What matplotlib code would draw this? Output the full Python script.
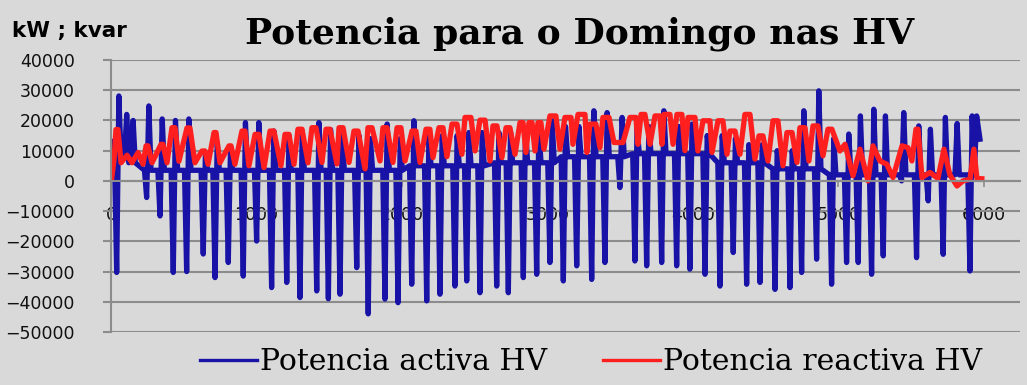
import matplotlib
matplotlib.use('Agg')
import matplotlib.pyplot as plt
from matplotlib.lines import Line2D

# Active power (kW): one entry per daily swing - where it bottoms out,
# the low, the high right after, and the level it sits at in between
swing_x = [39, 93, 137, 245, 337, 428, 520, 634, 715, 806,
           909, 1001, 1104, 1208, 1299, 1414, 1494, 1574, 1689, 1768,
           1883, 1973, 2067, 2170, 2261, 2364, 2445, 2536, 2651, 2731,
           2834, 2926, 3017, 3109, 3201, 3304, 3395, 3498, 3601, 3682,
           3785, 3888, 3979, 4083, 4186, 4277, 4369, 4461, 4564, 4667,
           4747, 4850, 4953, 5056, 5136, 5228, 5308, 5434, 5537, 5617,
           5720, 5801, 5904]
swing_low = [-30300, 9000, 8000, -5500, -11600, -30300, -30000, -24200, -32000, -27000,
             -31500, -19900, -35300, -33600, -38600, -36400, -39000, -37500, -28700, -44000,
             -39100, -40300, -34200, -39700, -37500, -34800, -33100, -37000, -34800, -37000,
             -32000, -30900, -27000, -33100, -28100, -32600, -27000, -2200, -26500, -28100,
             -27000, -28100, -29200, -30900, -34800, -23700, -34200, -33600, -35900, -35300,
             -30300, -25900, -34200, -27000, -27000, -30900, -24800, 0, -25400, -6600,
             -24300, 2000, -29800]
swing_high = [28100, 22000, 20000, 24800, 20500, 20000, 20500, 9000, 12700, 10000,
              19300, 19300, 16500, 15000, 16500, 19300, 17000, 15500, 15000, 14000,
              18800, 14000, 19900, 15000, 15000, 15000, 16000, 16000, 16000, 16000,
              17000, 17000, 19900, 18000, 18000, 23200, 22600, 21000, 18000, 18000,
              23200, 18000, 18800, 15000, 15000, 14000, 12000, 12000, 10000, 10000,
              23200, 29800, 14000, 15500, 21500, 23700, 21500, 22600, 18200, 17100,
              21000, 19000, 21500]
swing_base = [8000, 8000, 6000, 3500, 3500, 3500, 3500, 3500, 3500, 3500,
              3500, 3500, 3500, 3500, 3500, 3500, 3500, 3500, 3500, 3500,
              3500, 3500, 5000, 5000, 5000, 5000, 5000, 5000, 6000, 6000,
              6000, 6000, 6000, 8000, 8000, 8000, 8000, 8000, 9000, 9000,
              9000, 9000, 9000, 9000, 6000, 6000, 6000, 6000, 4000, 4000,
              4000, 4000, 2000, 2000, 2000, 2000, 2000, 2000, 2000, 2000,
              2000, 2000, 2000]
active_start = (5, 13000)
active_end = [(5950, 21500), (5973, 13800)]

# Reactive power (kvar)
reactive_x = [5, 21, 34, 48, 69, 110, 144, 186, 220, 241, 254, 282, 344, 357, 385,
              419, 440, 467, 522, 543, 577, 625, 646, 667, 708, 722, 749, 811, 825,
              852, 900, 921, 948, 990, 1017, 1052, 1093, 1120, 1168, 1196, 1223, 1258,
              1285, 1313, 1354, 1381, 1409, 1450, 1478, 1505, 1553, 1567, 1595, 1636,
              1670, 1698, 1746, 1766, 1794, 1849, 1869, 1897, 1938, 1966, 1993, 2021,
              2069, 2096, 2124, 2165, 2192, 2213, 2254, 2282, 2309, 2344, 2378, 2412,
              2433, 2474, 2502, 2536, 2571, 2605, 2625, 2653, 2687, 2715, 2742, 2777,
              2811, 2832, 2852, 2873, 2894, 2914, 2935, 2955, 2976, 3017, 3058, 3086,
              3120, 3162, 3175, 3210, 3258, 3271, 3292, 3333, 3361, 3381, 3423, 3457,
              3519, 3567, 3608, 3622, 3643, 3670, 3705, 3739, 3773, 3787, 3801, 3842,
              3863, 3890, 3924, 3945, 3966, 4014, 4034, 4069, 4117, 4131, 4172, 4206,
              4234, 4254, 4289, 4323, 4357, 4392, 4426, 4454, 4481, 4516, 4550, 4584,
              4619, 4646, 4681, 4715, 4735, 4770, 4797, 4825, 4859, 4894, 4928, 4955,
              5010, 5045, 5100, 5148, 5203, 5237, 5285, 5333, 5375, 5437, 5478, 5505,
              5533, 5547, 5574, 5629, 5684, 5725, 5766, 5815, 5856, 5904, 5931, 5952,
              5986]
reactive_kvar = [1000, 7000, 17000, 17000, 6000, 8500, 6000, 9400, 5500, 11600, 11600,
                 6000, 12100, 12100, 6000, 17600, 17600, 6500, 17500, 17500, 6000,
                 9900, 9900, 5500, 16000, 16000, 6000, 11600, 11600, 5500, 16500,
                 16500, 5000, 15400, 15400, 4400, 16500, 16500, 5000, 15400, 15400,
                 5500, 17100, 17100, 6000, 17600, 17600, 6100, 17100, 17100, 5600,
                 17600, 17600, 6100, 16500, 16500, 4000, 17600, 17600, 6600, 17600,
                 17600, 6100, 17600, 17600, 6600, 16500, 16500, 6100, 17100, 17100,
                 7700, 17600, 17600, 8000, 18800, 18800, 8800, 21000, 21000, 9900,
                 20100, 20100, 6600, 18200, 18200, 7700, 17600, 17600, 8800, 19300,
                 19300, 9400, 19300, 19300, 9900, 19300, 19300, 10500, 21500, 21500,
                 10500, 21000, 21000, 12100, 22000, 22000, 9400, 18800, 18800, 11000,
                 21000, 21000, 12700, 12700, 21000, 21000, 12100, 22000, 22000, 12100,
                 21500, 21500, 12100, 22000, 22000, 12100, 22000, 22000, 10000, 21000,
                 21000, 9900, 19900, 19900, 9400, 19900, 19900, 8800, 16500, 16500,
                 8800, 22000, 22000, 7200, 14900, 14900, 6600, 19900, 19900, 5000,
                 16000, 16000, 6100, 17600, 17600, 6600, 18200, 18200, 8300, 17100,
                 17100, 9900, 12100, 1700, 10500, 0, 11600, 6600, 5500, 1100, 11600,
                 11000, 6600, 17100, 17100, 1100, 2800, 800, 10500, 2000, -1700, 0,
                 500, 10500, 800, 700]

x_ticks = [0, 1000, 2000, 3000, 4000, 5000, 6000]
y_ticks = [-50000, -40000, -30000, -20000, -10000, 0, 10000, 20000, 30000, 40000]

bg = '#d9d9d9'
grid_c = '#8c8c8c'
blue = '#1813a6'
red = '#ff1f1f'

# each swing: level -> low -> high -> level, drawn as a near vertical bar
active_x = [active_start[0]]
active_kw = [active_start[1]]
for xt, lo, hi, b in zip(swing_x, swing_low, swing_high, swing_base):
    active_x += [xt - 15, xt, xt + 15, xt + 30]
    active_kw += [b, lo, hi, b]
for px, py in active_end:
    active_x.append(px)
    active_kw.append(py)

fig = plt.figure(figsize=(10.27, 3.85), dpi=100, facecolor=bg)
ax = fig.add_axes([111 / 1027, 1 - 332 / 385, (1020 - 111) / 1027, (332 - 60) / 385])
ax.set_facecolor(bg)

ax.plot(active_x, active_kw, color=blue, lw=3.8, solid_joinstyle='round', zorder=2.1)
ax.plot(reactive_x, reactive_kvar, color=red, lw=3.8, solid_joinstyle='round', zorder=2.2)

ax.set_xlim(0, 6248)
ax.set_ylim(-50000, 40000)
ax.set_xticks(x_ticks)
ax.set_yticks(y_ticks)
ax.grid(axis='y', color=grid_c, lw=1.5)
ax.set_axisbelow(True)

for s in ['top', 'right']:
    ax.spines[s].set_visible(False)
ax.spines['left'].set_color(grid_c)
ax.spines['left'].set_linewidth(1.5)
ax.spines['bottom'].set_position(('data', 0))
ax.spines['bottom'].set_color(grid_c)
ax.spines['bottom'].set_linewidth(1.5)

ax.tick_params(axis='y', length=6, width=1.5, color=grid_c, pad=20,
               labelsize=12.5, labelcolor='#111111')
ax.tick_params(axis='x', length=4, width=1.2, color=grid_c, pad=14,
               labelsize=12.5, labelcolor='#111111')

fig.text(12 / 1027, 1 - 31 / 385, 'kW ; kvar', family='DejaVu Sans',
         fontweight='bold', fontsize=15.5, va='center', ha='left')
fig.text(580 / 1027, 1 - 34 / 385, 'Potencia para o Domingo nas HV',
         family='DejaVu Serif', fontweight='bold', fontsize=26,
         va='center', ha='center')

handles = [Line2D([], [], color=blue, lw=2.4), Line2D([], [], color=red, lw=2.4)]
fig.legend(handles, ['Potencia activa HV', 'Potencia reactiva HV'],
           loc='center', bbox_to_anchor=(591 / 1027, 1 - 362 / 385), ncol=2,
           frameon=False, prop={'family': 'DejaVu Serif', 'size': 21.5},
           handlelength=1.9, handletextpad=0.1, columnspacing=1.9)

fig.savefig('out.png', dpi=100, facecolor=bg)
